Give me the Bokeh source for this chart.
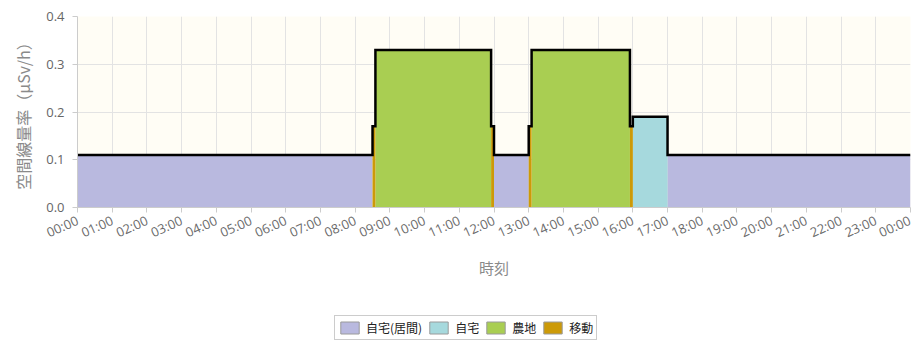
from bokeh.plotting import figure
from bokeh.layouts import column
from bokeh.models import Range1d, FixedTicker, Legend, LegendItem, ColumnDataSource
from bokeh.embed import file_html
from bokeh.resources import INLINE

# Where the person was during the day and the air dose rate there (μSv/h)
seg_start = ["00:00", "08:30", "08:35", "11:55", "12:00", "13:00", "13:05", "15:55", "16:00", "17:00"]
seg_end = ["08:30", "08:35", "11:55", "12:00", "13:00", "13:05", "15:55", "16:00", "17:00", "24:00"]
seg_place = ["自宅(居間)", "移動", "農地", "移動", "自宅(居間)", "移動", "農地", "移動", "自宅", "自宅(居間)"]
seg_rate = [0.11, 0.17, 0.33, 0.17, 0.11, 0.17, 0.33, 0.17, 0.19, 0.11]

places = ["自宅(居間)", "自宅", "農地", "移動"]
place_colors = ["#b9b9df", "#a6d9dd", "#a9ce52", "#cc9a08"]

hour_ticks = list(range(25))
hour_labels = ["00:00", "01:00", "02:00", "03:00", "04:00", "05:00", "06:00", "07:00",
               "08:00", "09:00", "10:00", "11:00", "12:00", "13:00", "14:00", "15:00",
               "16:00", "17:00", "18:00", "19:00", "20:00", "21:00", "22:00", "23:00", "00:00"]
rate_ticks = [0.0, 0.1, 0.2, 0.3, 0.4]
rate_labels = ["0.0", "0.1", "0.2", "0.3", "0.4"]

JP = "Noto Sans CJK JP"


def to_hours(hhmm):
    h, m = hhmm.split(":")
    return int(h) + int(m) / 60.0


starts = [to_hours(s) for s in seg_start]
ends = [to_hours(s) for s in seg_end]

p = figure(width=913, height=300, output_backend="svg", toolbar_location=None,
           x_range=Range1d(0, 24), y_range=Range1d(0, 0.4),
           min_border_left=77, min_border_right=3, min_border_top=16, min_border_bottom=93)
p.background_fill_color = "#fffdf5"
p.border_fill_color = "white"
p.outline_line_color = None

# filled blocks, one renderer per place
for place, color in zip(places, place_colors):
    idx = [i for i, s in enumerate(seg_place) if s == place]
    src = ColumnDataSource(dict(
        left=[starts[i] for i in idx],
        right=[ends[i] for i in idx],
        top=[seg_rate[i] for i in idx],
        bottom=[0.0 for _ in idx],
    ))
    p.quad(left="left", right="right", top="top", bottom="bottom",
           source=src, fill_color=color, line_color=None)

# black step outline of the dose rate
xs, ys = [], []
for a, b, r in zip(starts, ends, seg_rate):
    xs += [a, b]
    ys += [r, r]
p.line(xs, ys, line_color="black", line_width=2.5, line_join="miter")

# grid
p.xgrid.ticker = FixedTicker(ticks=hour_ticks)
p.ygrid.ticker = FixedTicker(ticks=rate_ticks)
p.xgrid.grid_line_color = "#e3e3e3"
p.ygrid.grid_line_color = "#e3e3e3"

# x axis
xa = p.xaxis[0]
xa.ticker = FixedTicker(ticks=hour_ticks)
xa.major_label_overrides = {t: lab for t, lab in zip(hour_ticks, hour_labels)}
xa.major_label_orientation = 0.42
xa.major_label_text_font = "Open Sans"
xa.major_label_text_font_size = "13px"
xa.major_label_text_color = "#6a6a6a"
xa.major_label_standoff = 7
xa.axis_label = "時刻"
xa.axis_label_text_font = JP
xa.axis_label_text_font_size = "15px"
xa.axis_label_text_font_style = "normal"
xa.axis_label_text_color = "#8a8a8a"
xa.axis_label_standoff = 5
xa.axis_line_color = "#cccccc"
xa.major_tick_line_color = "#cccccc"
xa.major_tick_in = 0
xa.major_tick_out = 5
xa.minor_tick_line_color = None

# y axis
ya = p.yaxis[0]
ya.ticker = FixedTicker(ticks=rate_ticks)
ya.major_label_overrides = {t: lab for t, lab in zip(rate_ticks, rate_labels)}
ya.major_label_text_font = "Open Sans"
ya.major_label_text_font_size = "13px"
ya.major_label_text_color = "#666666"
ya.major_label_standoff = 8
ya.axis_label = "空間線量率（μSv/h）"
ya.axis_label_text_font = JP
ya.axis_label_text_font_size = "16px"
ya.axis_label_text_font_style = "normal"
ya.axis_label_text_color = "#8a8a8a"
ya.axis_label_standoff = 8
ya.axis_line_color = "#cccccc"
ya.major_tick_line_color = "#cccccc"
ya.major_tick_in = 0
ya.major_tick_out = 5
ya.minor_tick_line_color = None

# legend strip under the chart (its frame lines up with the chart frame)
lg = figure(width=913, height=41, output_backend="svg", toolbar_location=None,
            x_range=Range1d(0, 1), y_range=Range1d(0, 1),
            x_axis_location=None, y_axis_location=None,
            min_border_left=0, min_border_right=0, min_border_top=0, min_border_bottom=0)
lg.xgrid.visible = False
lg.ygrid.visible = False
lg.outline_line_color = None
lg.background_fill_color = "white"
lg.border_fill_color = "white"

# swatch renderers sit outside the visible range; only their legend glyphs show
items = []
for place, color in zip(places, place_colors):
    sw = lg.quad(left=[5], right=[6], top=[6], bottom=[5], fill_color=color, line_color="#9a9a9a")
    items.append(LegendItem(label=place, renderers=[sw]))

legend = Legend(items=items, orientation="horizontal", location=(257, 1),
                border_line_color="#9a9a9a", border_line_width=1,
                background_fill_color="white", background_fill_alpha=1.0,
                label_text_font=JP, label_text_font_size="12px", label_text_color="#222222",
                glyph_width=23, glyph_height=15, label_standoff=5, spacing=5,
                padding=3, margin=0, label_height=15)
lg.add_layout(legend, "center")

layout = column(p, lg, spacing=0)
open("out.html", "w").write(file_html(layout, INLINE))
